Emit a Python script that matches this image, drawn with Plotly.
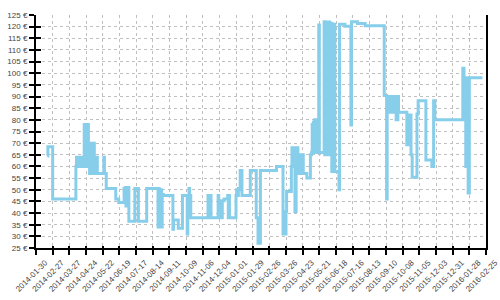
import plotly.graph_objects as go

dates = [
    "2014-02-18", "2014-02-19", "2014-02-27", "2014-04-07", "2014-04-08", "2014-04-10",
    "2014-04-11", "2014-04-13", "2014-04-15", "2014-04-17", "2014-04-19", "2014-04-20",
    "2014-04-21", "2014-04-22", "2014-04-23", "2014-04-24", "2014-04-25", "2014-04-26",
    "2014-04-27", "2014-04-28", "2014-04-29", "2014-04-30", "2014-05-01", "2014-05-02",
    "2014-05-03", "2014-05-05", "2014-05-06", "2014-05-08", "2014-05-12", "2014-05-13",
    "2014-05-24", "2014-05-25", "2014-05-28", "2014-06-13", "2014-06-18", "2014-06-27",
    "2014-06-28", "2014-06-29", "2014-06-30", "2014-07-01", "2014-07-02", "2014-07-03",
    "2014-07-05", "2014-07-15", "2014-07-21", "2014-08-04", "2014-08-23", "2014-08-24",
    "2014-08-25", "2014-08-26", "2014-08-27", "2014-08-28", "2014-08-29", "2014-08-30",
    "2014-09-01", "2014-09-17", "2014-09-18", "2014-09-26", "2014-10-03", "2014-10-11",
    "2014-10-12", "2014-10-14", "2014-10-15", "2014-10-17", "2014-11-15", "2014-11-16",
    "2014-11-17", "2014-11-18", "2014-11-19", "2014-11-20", "2014-12-02", "2014-12-03",
    "2014-12-05", "2014-12-06", "2014-12-07", "2014-12-09", "2014-12-12", "2014-12-18",
    "2014-12-19", "2014-12-20", "2014-12-21", "2015-01-01", "2015-01-02", "2015-01-04",
    "2015-01-05", "2015-01-07", "2015-01-08", "2015-01-09", "2015-01-10", "2015-01-11",
    "2015-01-25", "2015-02-04", "2015-02-07", "2015-02-11", "2015-03-10", "2015-03-21",
    "2015-03-26", "2015-03-27", "2015-04-04", "2015-04-05", "2015-04-06", "2015-04-07",
    "2015-04-10", "2015-04-12", "2015-04-15", "2015-04-17", "2015-04-18", "2015-04-21",
    "2015-04-22", "2015-04-24", "2015-04-30", "2015-05-06", "2015-05-08", "2015-05-09",
    "2015-05-10", "2015-05-11", "2015-05-12", "2015-05-13", "2015-05-14", "2015-05-15",
    "2015-05-16", "2015-05-20", "2015-05-21", "2015-05-29", "2015-05-30", "2015-05-31",
    "2015-06-01", "2015-06-02", "2015-06-03", "2015-06-04", "2015-06-05", "2015-06-06",
    "2015-06-07", "2015-06-08", "2015-06-09", "2015-06-10", "2015-06-11", "2015-06-15",
    "2015-06-16", "2015-06-23", "2015-06-24", "2015-07-03", "2015-07-13", "2015-07-14",
    "2015-07-24", "2015-08-06", "2015-09-07", "2015-09-11", "2015-09-12", "2015-09-14",
    "2015-09-15", "2015-09-16", "2015-09-17", "2015-09-18", "2015-09-19", "2015-09-20",
    "2015-09-21", "2015-09-22", "2015-09-23", "2015-09-24", "2015-09-25", "2015-09-27",
    "2015-09-30", "2015-10-01", "2015-10-15", "2015-10-20", "2015-10-22", "2015-10-24",
    "2015-11-01", "2015-11-03", "2015-11-16", "2015-11-26", "2015-11-29", "2015-12-01",
    "2016-01-17", "2016-01-19", "2016-01-22", "2016-01-23", "2016-01-26", "2016-01-28",
    "2016-02-19",
]

prices = [
    64.5, 68.5, 46, 60, 64, 60,
    63.5, 60, 64, 60, 64, 60,
    78, 60, 78, 61, 77, 60,
    78, 60, 70, 57, 70, 60,
    70, 57, 70, 57, 64, 57,
    64, 57, 50.5, 46, 44.5, 50.5,
    44.5, 51, 43, 50.5, 44, 51,
    36.5, 50.5, 36.5, 50.5, 34, 50.5,
    34, 50, 34, 50, 34, 48,
    47.5, 33, 37, 33.5, 47.5, 31,
    47.5, 50.5, 47.5, 38, 47.5, 38,
    47.5, 38, 47.5, 38, 47.5, 45.3,
    38, 45.3, 38, 45.3, 46, 47.5,
    38, 47.5, 38, 47.5, 50, 47.5,
    50.5, 50, 58.3, 50, 58.3, 47.5,
    58.3, 38, 27, 58.3, 60, 31,
    40.7, 49.3, 60, 68, 60, 68,
    40.7, 68, 65, 57, 65, 57,
    65, 57, 55, 65, 66, 78,
    66, 79, 66, 80, 66, 80,
    66, 120.7, 66, 122.1, 65, 122,
    65, 122, 65, 122, 65, 122,
    65, 121.5, 65, 121.5, 57.8, 121,
    57.8, 50, 121, 120.2, 77.8, 122.1,
    121.4, 120.4, 90.4, 46, 90, 83.3,
    90, 83.3, 90, 83.3, 90, 83.3,
    90, 83.3, 90, 83.3, 90, 80,
    90, 83.3, 69.3, 82.1, 65, 55.4,
    82.5, 88.2, 62.8, 60, 88.2, 80,
    102.1, 98.1, 60, 98, 48.6, 98.1,
    98.1,
]

x_range = ["2014-01-30", "2016-02-25"]
y_range = [25, 125]

font = dict(family="Liberation Sans, Arial, sans-serif", size=8, color="#444444")

fig = go.Figure()
fig.add_trace(go.Scatter(
    x=dates, y=prices, mode="lines",
    line=dict(color="#87CEEB", width=3, shape="hv"),
    hoverinfo="skip",
))
fig.add_trace(go.Scatter(
    x=dates, y=prices, mode="lines", yaxis="y2", xaxis="x2",
    line=dict(color="rgba(0,0,0,0)", width=0, shape="hv"),
    hoverinfo="skip",
))

grid = dict(showgrid=True, gridcolor="#c0c0c0", gridwidth=1, griddash="3px,3px")

fig.update_layout(
    width=500, height=300,
    margin=dict(l=36, r=14, t=15, b=52, autoexpand=False),
    paper_bgcolor="white", plot_bgcolor="white",
    showlegend=False,
    font=font,
    xaxis=dict(
        type="date", range=x_range, tick0="2014-01-30", dtick=28 * 86400000,
        tickformat="%Y-%m-%d", tickangle=-45, ticks="outside", ticklen=5,
        tickwidth=2, tickcolor="black", showline=True, linecolor="black",
        linewidth=2, zeroline=False, tickfont=font, automargin=False,
        ticklabelshift=9, **grid,
    ),
    yaxis=dict(
        range=y_range, dtick=5, tick0=25, ticksuffix=" €", ticks="outside",
        ticklen=5, tickwidth=2, tickcolor="black", showline=True,
        linecolor="black", linewidth=2, mirror=True, zeroline=False,
        tickfont=font, automargin=False, **grid,
    ),
    xaxis2=dict(
        type="date", range=x_range, tick0="2014-01-30", dtick=28 * 86400000,
        overlaying="x", anchor="y2", ticks="inside", ticklen=2, tickwidth=2,
        tickcolor="black", showticklabels=False, showgrid=False, zeroline=False,
        showline=False, automargin=False,
    ),
    yaxis2=dict(
        range=y_range, dtick=5, tick0=25, overlaying="y", anchor="x2",
        side="left", ticks="inside", ticklen=5, tickwidth=2, tickcolor="black",
        showticklabels=False, showgrid=False, zeroline=False, showline=False,
        automargin=False,
    ),
)

fig.write_html("out.html")
